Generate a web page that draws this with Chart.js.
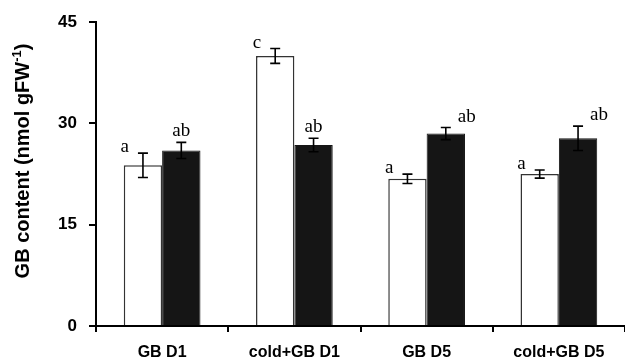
<!DOCTYPE html>
<html>
<head>
<meta charset="utf-8">
<script src="https://cdn.jsdelivr.net/npm/chart.js@4/dist/chart.umd.min.js"></script>
<style>
  html, body { margin: 0; padding: 0; background: #fff; }
  #wrap { width: 625px; height: 363px; }
</style>
</head>
<body>
<div id="wrap"><canvas id="chart"></canvas></div>
<script>
// values (nmol gFW-1)
const categories = ['GB D1', 'cold+GB D1', 'GB D5', 'cold+GB D5'];
const whiteValues = [23.8, 40.0, 21.8, 22.5];
const whiteErrors = [1.8, 1.1, 0.7, 0.6];
const blackValues = [26.0, 26.8, 28.5, 27.8];
const blackErrors = [1.2, 1.0, 0.9, 1.8];
const whiteLetters = ['a', 'c', 'a', 'a'];
const blackLetters = ['ab', 'ab', 'ab', 'ab'];
const yTicks = [0, 15, 30, 45];

// error bars + significance letters
const errorBars = {
  id: 'errorBars',
  afterDatasetsDraw(chart) {
    const ctx = chart.ctx;
    const y = chart.scales.y;
    chart.data.datasets.forEach((ds, di) => {
      const meta = chart.getDatasetMeta(di);
      meta.data.forEach((bar, i) => {
        const v = ds.data[i];
        const e = ds.errors[i];
        const top = y.getPixelForValue(v + e);
        const bot = y.getPixelForValue(v - e);
        ctx.save();
        ctx.strokeStyle = '#000';
        ctx.lineWidth = 1.6;
        ctx.beginPath();
        ctx.moveTo(bar.x, top); ctx.lineTo(bar.x, bot);
        ctx.moveTo(bar.x - 5, top); ctx.lineTo(bar.x + 5, top);
        ctx.moveTo(bar.x - 5, bot); ctx.lineTo(bar.x + 5, bot);
        ctx.stroke();

        ctx.fillStyle = '#000';
        ctx.font = '19px "Liberation Serif"';
        ctx.textAlign = 'center';
        if (di === 0) {
          ctx.textBaseline = 'alphabetic';
          ctx.fillText(ds.letters[i], bar.x - bar.width / 2 + 1, top - 1);
        } else {
          const shift = i < 2 ? 0 : 21;
          ctx.textBaseline = 'middle';
          ctx.fillText(ds.letters[i], bar.x + shift, top - 11);
        }
        ctx.restore();
      });
    });
  }
};

// rotated y title with superscript
const yTitle = {
  id: 'yTitle',
  afterDraw(chart) {
    const ctx = chart.ctx;
    const main = 'GB content (nmol gFW';
    const sup = '-1';
    const end = ')';
    ctx.save();
    ctx.translate(23, 161);
    ctx.rotate(-Math.PI / 2);
    ctx.fillStyle = '#000';
    ctx.textBaseline = 'middle';
    ctx.textAlign = 'left';
    const big = 'bold 20px "Liberation Sans"';
    const small = 'bold 13px "Liberation Sans"';
    ctx.font = big;
    const w1 = ctx.measureText(main).width;
    const w3 = ctx.measureText(end).width;
    ctx.font = small;
    const w2 = ctx.measureText(sup).width;
    let x = -(w1 + w2 + w3) / 2;
    ctx.font = big;
    ctx.fillText(main, x, 0);
    x += w1;
    ctx.font = small;
    ctx.fillText(sup, x, -6);
    x += w2;
    ctx.font = big;
    ctx.fillText(end, x, 0);
    ctx.restore();
  }
};

new Chart(document.getElementById('chart'), {
  type: 'bar',
  data: {
    labels: categories,
    datasets: [
      {
        data: whiteValues,
        errors: whiteErrors,
        letters: whiteLetters,
        backgroundColor: '#ffffff',
        borderColor: '#333333',
        borderWidth: 1.5,
        categoryPercentage: 0.58,
        barPercentage: 1,
      },
      {
        data: blackValues,
        errors: blackErrors,
        letters: blackLetters,
        backgroundColor: '#151515',
        borderColor: '#151515',
        borderWidth: 1,
        categoryPercentage: 0.58,
        barPercentage: 1,
      },
    ],
  },
  options: {
    responsive: true,
    maintainAspectRatio: false,
    animation: false,
    layout: { padding: { top: 20, right: 0, left: 0, bottom: 0 } },
    plugins: {
      legend: { display: false },
      tooltip: { enabled: false },
    },
    scales: {
      x: {
        afterFit: (s) => { s.height = 37; },
        grid: {
          offset: true,
          drawOnChartArea: false,
          drawTicks: true,
          tickLength: 6,
          color: '#000',
          lineWidth: 2,
        },
        border: { display: true, color: '#000', width: 2 },
        ticks: {
          color: '#000',
          padding: 11,
          font: { family: 'Liberation Sans', size: 16, weight: 'bold' },
        },
      },
      y: {
        min: 0,
        max: 45,
        afterFit: (s) => { s.width = 96; },
        afterBuildTicks: (s) => { s.ticks = yTicks.map((v) => ({ value: v })); },
        grid: {
          drawOnChartArea: false,
          drawTicks: true,
          tickLength: 7,
          color: '#000',
          lineWidth: 2,
        },
        border: { display: true, color: '#000', width: 2 },
        ticks: {
          color: '#000',
          padding: 12,
          font: { family: 'Liberation Sans', size: 17, weight: 'bold' },
        },
      },
    },
  },
  plugins: [errorBars, yTitle],
});
</script>
</body>
</html>
